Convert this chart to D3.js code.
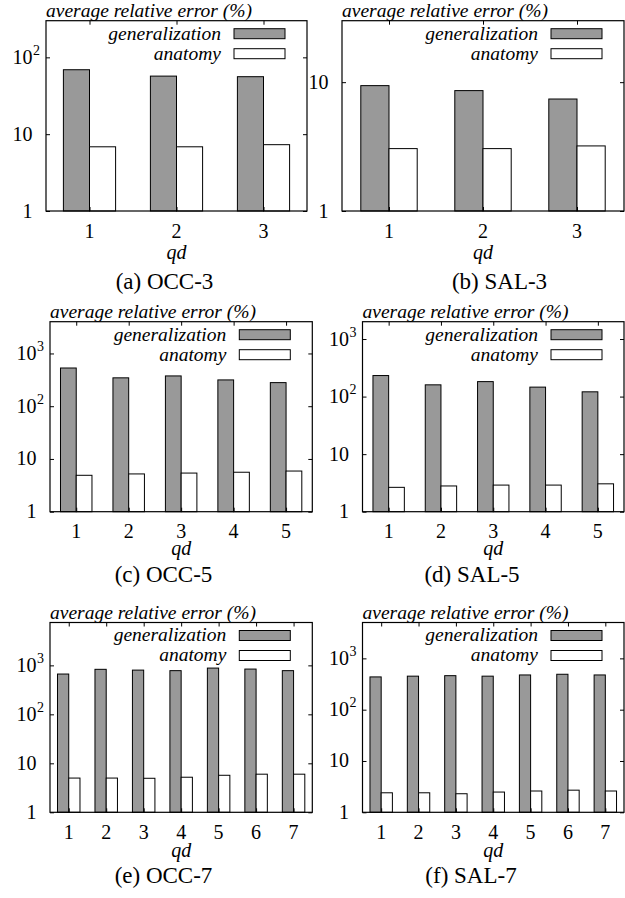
<!DOCTYPE html>
<html>
<head>
<meta charset="utf-8">
<script src="https://cdn.jsdelivr.net/npm/d3@7"></script>
<style>
  html, body { margin: 0; padding: 0; background: #fff; }
  svg { display: block; }
</style>
</head>
<body>
<svg id="chart" width="625" height="898" font-family="'Liberation Serif', 'DejaVu Serif', 'Times New Roman', Times, serif"></svg>
<script>
// ---------------- data ----------------
const seriesNames = ["generalization", "anatomy"];
const yTitle = "average relative error (%)";
const xTitle = "qd";

const qd3 = [1, 2, 3];
const qd5 = [1, 2, 3, 4, 5];
const qd7 = [1, 2, 3, 4, 5, 6, 7];

const genOCC3 = [69, 57, 56];
const anaOCC3 = [6.85, 6.85, 7.3];

const genSAL3 = [9.4, 8.6, 7.4];
const anaSAL3 = [3.05, 3.05, 3.2];

const genOCC5 = [530, 345, 375, 315, 280];
const anaOCC5 = [4.9, 5.2, 5.4, 5.6, 5.9];

const genSAL5 = [232, 160, 182, 146, 121];
const anaSAL5 = [2.65, 2.8, 2.9, 2.9, 3.05];

const genOCC7 = [665, 830, 800, 780, 880, 840, 780];
const anaOCC7 = [5.0, 5.0, 4.95, 5.2, 5.7, 6.0, 6.0];

const genSAL7 = [435, 450, 460, 450, 475, 490, 475];
const anaSAL7 = [2.4, 2.4, 2.3, 2.48, 2.6, 2.7, 2.6];

const yTicks3 = [1, 10, 100];
const yTickLabels3 = ["1", "10", "10^2"];
const yTicksS3 = [1, 10];
const yTickLabelsS3 = ["1", "10"];
const yTicks57 = [1, 10, 100, 1000];
const yTickLabels57 = ["1", "10", "10^2", "10^3"];

const captions = ["(a) OCC-3", "(b) SAL-3", "(c) OCC-5", "(d) SAL-5", "(e) OCC-7", "(f) SAL-7"];

// ---------------- layout ----------------
const panels = [
  { qd: qd3, gen: genOCC3, ana: anaOCC3, ymax: 300,  ticks: yTicks3,  tickLabels: yTickLabels3,
    left: 46,  right: 307, top: 20.7,  bottom: 211,   capX: 164.5, qdY: 258.5, capY: 288.5 },
  { qd: qd3, gen: genSAL3, ana: anaSAL3, ymax: 30,   ticks: yTicksS3, tickLabels: yTickLabelsS3,
    left: 342, right: 624, top: 20.7,  bottom: 211,   capX: 499.5, qdY: 258.5, capY: 288.5 },
  { qd: qd5, gen: genOCC5, ana: anaOCC5, ymax: 4000, ticks: yTicks57, tickLabels: yTickLabels57,
    left: 50,  right: 312.3, top: 321.7, bottom: 511.7, capX: 163.5, qdY: 555, capY: 582 },
  { qd: qd5, gen: genSAL5, ana: anaSAL5, ymax: 2000, ticks: yTicks57, tickLabels: yTickLabels57,
    left: 362.5, right: 624, top: 321.7, bottom: 511.7, capX: 472, qdY: 555, capY: 582 },
  { qd: qd7, gen: genOCC7, ana: anaOCC7, ymax: 7500, ticks: yTicks57, tickLabels: yTickLabels57,
    left: 50,  right: 312.3, top: 622.5, bottom: 812.3, capX: 163.5, qdY: 856.5, capY: 882.5 },
  { qd: qd7, gen: genSAL7, ana: anaSAL7, ymax: 5000, ticks: yTicks57, tickLabels: yTickLabels57,
    left: 362.5, right: 624, top: 622.5, bottom: 812.3, capX: 471, qdY: 856.5, capY: 882.5 }
];

const svg = d3.select("#chart");
const FONT = "'Liberation Serif', 'DejaVu Serif', 'Times New Roman', Times, serif";
const fills = ["#999999", "#ffffff"];
const barW = 0.3;

panels.forEach((p, pi) => {
  const g = svg.append("g");
  const n = p.qd.length;
  const x = d3.scaleLinear().domain([0.5, n + 0.5]).range([p.left, p.right]);
  const y = d3.scaleLog().domain([1, p.ymax]).range([p.bottom, p.top]);

  // bars
  const rows = p.qd.map((q, i) => ({ q, gen: p.gen[i], ana: p.ana[i] }));
  g.selectAll("rect.gen").data(rows).enter().append("rect")
    .attr("x", d => x(d.q - barW)).attr("width", d => x(d.q) - x(d.q - barW))
    .attr("y", d => y(d.gen)).attr("height", d => y(1) - y(d.gen))
    .attr("fill", fills[0]).attr("stroke", "#000").attr("stroke-width", 1);
  g.selectAll("rect.ana").data(rows).enter().append("rect")
    .attr("x", d => x(d.q)).attr("width", d => x(d.q + barW) - x(d.q))
    .attr("y", d => y(d.ana)).attr("height", d => y(1) - y(d.ana))
    .attr("fill", fills[1]).attr("stroke", "#000").attr("stroke-width", 1);

  // axes (ticks only, inward, mirrored)
  const axStyle = sel => {
    sel.select(".domain").remove();
    sel.selectAll(".tick line").attr("stroke", "#000").attr("stroke-width", 1);
  };
  g.append("g").attr("transform", `translate(${p.left},0)`)
    .call(d3.axisLeft(y).tickValues(p.ticks).tickSize(-4).tickFormat("")).call(axStyle);
  g.append("g").attr("transform", `translate(${p.right},0)`)
    .call(d3.axisRight(y).tickValues(p.ticks).tickSize(-4).tickFormat("")).call(axStyle);
  g.append("g").attr("transform", `translate(0,${p.top})`)
    .call(d3.axisTop(x).tickValues(p.qd).tickSize(-4).tickFormat("")).call(axStyle);
  g.append("g").attr("transform", `translate(0,${p.bottom})`)
    .call(d3.axisBottom(x).tickValues(p.qd).tickSize(-4).tickFormat("")).call(axStyle);

  // frame
  g.append("rect").attr("x", p.left).attr("y", p.top)
    .attr("width", p.right - p.left).attr("height", p.bottom - p.top)
    .attr("fill", "none").attr("stroke", "#000").attr("stroke-width", 1.2);

  const txt = (sel) => sel.attr("font-family", FONT).attr("fill", "#000");

  // y tick labels
  p.ticks.forEach((t, i) => {
    const lab = p.tickLabels[i];
    const parts = lab.split("^");
    const tx = p.left - 13.5;
    const ty = y(t) + 6.5;
    g.append("text").call(txt).attr("x", tx).attr("y", ty).attr("text-anchor", "end")
      .attr("font-size", 20).text(parts[0]);
    if (parts[1]) {
      g.append("text").call(txt).attr("x", tx + 0.5).attr("y", ty - 9).attr("text-anchor", "start")
        .attr("font-size", 14).text(parts[1]);
    }
  });

  // x tick labels
  g.selectAll("text.xt").data(p.qd).enter().append("text").call(txt)
    .attr("x", d => x(d)).attr("y", p.bottom + 26.5).attr("text-anchor", "middle")
    .attr("font-size", 20).text(d => d);

  // x title
  g.append("text").call(txt).attr("x", (p.left + p.right) / 2).attr("y", p.qdY)
    .attr("text-anchor", "middle").attr("font-size", 20).attr("font-style", "italic").text(xTitle);

  // y title (top)
  g.append("text").call(txt).attr("x", p.left).attr("y", p.top - 4)
    .attr("font-size", 19.5).attr("font-style", "italic").text(yTitle);

  // legend
  const swR = p.right - 22, swW = 51, swH = 10;
  seriesNames.forEach((s, si) => {
    const sy = p.top + 8 + si * 20;
    g.append("rect").attr("x", swR - swW).attr("y", sy).attr("width", swW).attr("height", swH)
      .attr("fill", fills[si]).attr("stroke", "#000").attr("stroke-width", 1);
    g.append("text").call(txt).attr("x", swR - swW - 13).attr("y", sy + swH + 0.8)
      .attr("text-anchor", "end").attr("font-size", 19.5).attr("font-style", "italic").text(s);
  });

  // caption
  g.append("text").call(txt).attr("x", p.capX).attr("y", p.capY).attr("text-anchor", "middle")
    .attr("font-size", 23).text(captions[pi]);
});
</script>
</body>
</html>
